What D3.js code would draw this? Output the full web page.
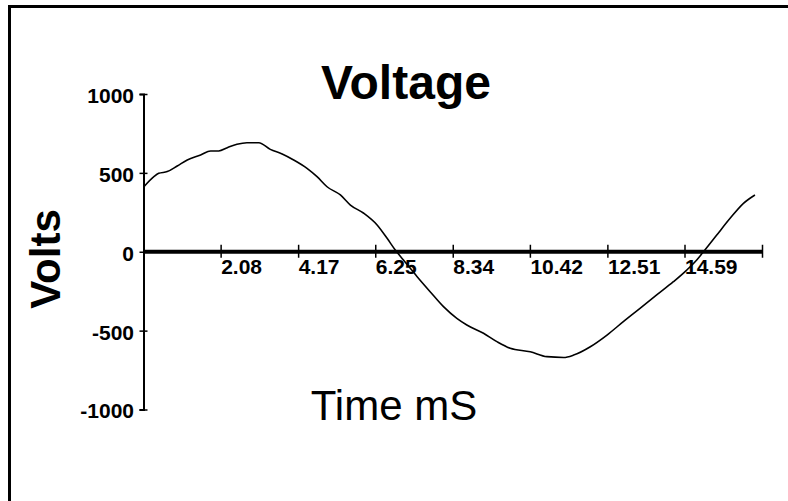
<!DOCTYPE html>
<html>
<head>
<meta charset="utf-8">
<script src="https://cdn.jsdelivr.net/npm/d3@7"></script>
<style>
  html, body { margin: 0; padding: 0; background: #fff; }
  svg { display: block; }
  text { font-family: "Liberation Sans", Arial, sans-serif; fill: #000; }
</style>
</head>
<body>
<svg id="chart" width="788" height="501"></svg>
<script>
// ---- data ----
const timeMs = [0.00, 0.28, 0.41, 0.64, 0.91, 1.18, 1.54, 1.81, 2.03, 2.26, 2.52, 2.79, 3.11, 3.42, 3.74, 4.05,
  4.41, 4.68, 4.95, 5.31, 5.58, 5.94, 6.30, 6.57, 6.79, 7.01, 7.38, 7.73, 8.09, 8.45, 8.72, 9.17, 9.53,
  9.89, 10.43, 10.88, 11.33, 11.60, 12.05, 12.50, 12.94, 13.39, 13.84, 14.29, 14.65, 14.92, 15.14, 15.46,
  15.82, 16.18, 16.49];
const volts = [409, 476, 497, 508, 544, 582, 613, 639, 639, 660, 681, 691, 691, 649, 620, 582,
  529, 476, 412, 360, 296, 244, 170, 85, 11, -52, -158, -253, -348, -422, -464, -517, -570,
  -612, -634, -665, -670, -655, -602, -528, -443, -359, -274, -190, -116, -52, 11, 106,
  212, 307, 360];
const xTickValues = [2.08, 4.17, 6.25, 8.34, 10.42, 12.51, 14.59, 16.68];
const xTickLabels = ["2.08", "4.17", "6.25", "8.34", "10.42", "12.51", "14.59", ""];
const yTickValues = [1000, 500, 0, -500, -1000];
const yTickLabels = ["1000", "500", "0", "-500", "-1000"];
const titleText = "Voltage";
const xTitle = "Time mS";
const yTitle = "Volts";

// ---- drawing ----
const svg = d3.select("#chart");

// frame (top and left edges visible)
svg.append("path")
  .attr("d", "M9.5,501 L9.5,6.5 L788,6.5")
  .attr("fill", "none").attr("stroke", "#000").attr("stroke-width", 3);

const x = d3.scaleLinear().domain([0, 16.68]).range([143.5, 762]);
const y = d3.scaleLinear().domain([-1000, 1000]).range([409.5, 94]);

// y axis
const yAxis = svg.append("g")
  .attr("transform", `translate(${x(0)},0)`)
  .call(d3.axisLeft(y).tickValues(yTickValues)
    .tickFormat((d, i) => yTickLabels[i]).tickSizeOuter(0).tickSize(4));
yAxis.select(".domain").attr("stroke", "#000").attr("stroke-width", 2);
yAxis.selectAll(".tick line").attr("x1", -4).attr("x2", 4).attr("stroke", "#000").attr("stroke-width", 1.5);
yAxis.selectAll(".tick text")
  .attr("x", -9.5).attr("dy", "0.4em")
  .attr("text-anchor", "end")
  .style("font-size", "21px").style("font-weight", "bold");

// x axis along zero
const xAxis = svg.append("g")
  .attr("transform", `translate(0,${y(0)})`)
  .call(d3.axisBottom(x).tickValues(xTickValues)
    .tickFormat((d, i) => xTickLabels[i]).tickSizeOuter(0).tickSize(6));
xAxis.select(".domain").attr("stroke", "#000").attr("stroke-width", 4)
  .attr("d", `M${x(0)},0H${x(16.68)}`);
xAxis.selectAll(".tick line").attr("y1", -7).attr("y2", 6).attr("stroke", "#000").attr("stroke-width", 1.5);
xAxis.selectAll(".tick text")
  .attr("x", 0).attr("y", 22.5).attr("dy", null)
  .attr("text-anchor", "start")
  .style("font-size", "21px").style("font-weight", "bold");

// curve
const line = d3.line()
  .x((d, i) => x(timeMs[i]))
  .y((d, i) => y(volts[i]))
  .curve(d3.curveMonotoneX);
svg.append("path")
  .datum(volts)
  .attr("d", line)
  .attr("fill", "none").attr("stroke", "#000").attr("stroke-width", 1.6);

// titles
svg.append("text")
  .attr("x", 406).attr("y", 99)
  .attr("text-anchor", "middle")
  .style("font-size", "48px").style("font-weight", "bold")
  .text(titleText);

svg.append("text")
  .attr("x", 394).attr("y", 420)
  .attr("text-anchor", "middle")
  .style("font-size", "42px")
  .text(xTitle);

svg.append("text")
  .attr("transform", "translate(60,259) rotate(-90)")
  .attr("text-anchor", "middle")
  .style("font-size", "42px").style("font-weight", "bold")
  .text(yTitle);
</script>
</body>
</html>
